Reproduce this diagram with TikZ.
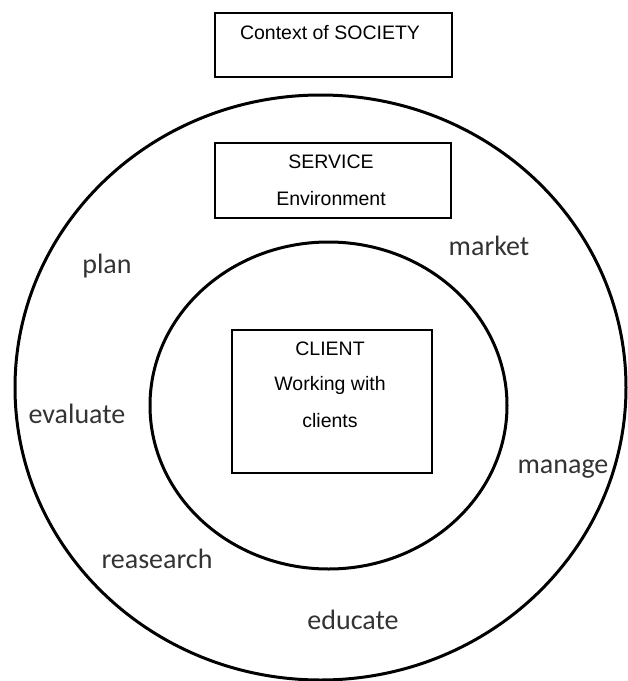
\documentclass[tikz,border=0pt]{standalone}
\usepackage{fontspec}
\setmainfont{Liberation Sans}
\newfontfamily\labelfont{Carlito}

\begin{document}
\begin{tikzpicture}[x=1pt,y=-1pt]

\tikzset{box/.style = {shape=rectangle,draw,line width=1.4pt,inner sep=0pt}}
\tikzset{boxtext/.style = {inner sep=0pt,font=\fontsize{19.5}{22}\selectfont}}
\tikzset{task/.style = {inner sep=0pt,text=black!80,font=\labelfont\fontsize{28}{32}\selectfont}}
\tikzset{ring/.style = {line width=3pt}}

\useasboundingbox (0,0) rectangle (628,681);
%circles
\draw[ring] (320.5,387.5) ellipse [x radius=305.5, y radius=292.5];
\draw[ring] (328.5,405.5) ellipse [x radius=178.5, y radius=163.5];
%boxes
\node[box, minimum width=237pt, minimum height=64pt] (society) at (333.5,45) {};
\node[boxtext] (societytext) at (330,33) {Context of SOCIETY};
\node[box, minimum width=236pt, minimum height=75pt] (service) at (333,180.5) {};
\node[boxtext] (servicetext) at (331,162) {SERVICE};
\node[boxtext] (environment) at (331,199) {Environment};
\node[box, minimum width=200pt, minimum height=143pt] (client) at (332,401.5) {};
\node[boxtext] (clienttext) at (330,349) {CLIENT};
\node[boxtext] (working) at (330,385) {Working with};
\node[boxtext] (clients) at (330,421) {clients};
%tasks
\node[task] (market) at (489,246) {market};
\node[task] (plan) at (107,266) {plan};
\node[task] (evaluate) at (77,414) {evaluate};
\node[task] (manage) at (563,469) {manage};
\node[task] (research) at (157,559) {reasearch};
\node[task] (educate) at (353,620) {educate};

\end{tikzpicture}
\end{document}
